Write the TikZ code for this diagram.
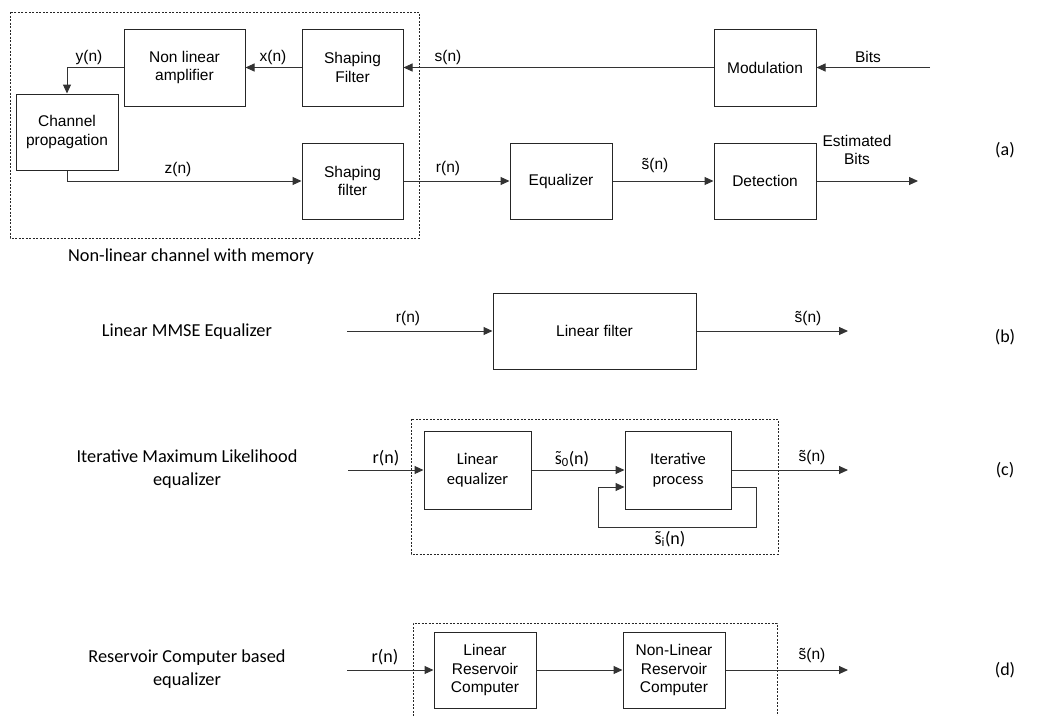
\documentclass[tikz,border=0pt]{standalone}
\usepackage{fontspec}
\setmainfont{Liberation Sans}
\newfontfamily\calfont{Carlito}
\usetikzlibrary{arrows.meta}
\newcommand{\stil}{\leavevmode\hbox{\ooalign{s\cr\hidewidth\raisebox{0.05ex}{\char"02DC}\hidewidth\cr}}}
\begin{document}
\begin{tikzpicture}[x=1pt,y=-1pt,
  box/.style={draw=black!85, line width=1pt, align=center, inner sep=0pt,
    minimum width=102pt, minimum height=77pt, font=\fontsize{15.5}{18.5}\selectfont},
  cbox/.style={box, font=\calfont\fontsize{16.5}{19.5}\selectfont},
  arr/.style={draw=black!80, line width=1pt, -{Triangle[length=9pt,width=8pt]}},
  ln/.style={draw=black!80, line width=1pt},
  dbox/.style={draw=black!85, line width=0.8pt, dash pattern=on 2pt off 1.5pt},
  lab/.style={font=\fontsize{15.5}{18.5}\selectfont, inner sep=0pt},
  clab/.style={font=\calfont\fontsize{18}{21}\selectfont, inner sep=0pt},
  side/.style={font=\calfont\fontsize{18.3}{23}\selectfont, align=center, inner sep=0pt}]
\useasboundingbox (0,0) rectangle (1046,715);

% ---------------- (a) ----------------
\draw[dbox] (10,12) rectangle (419,238);
\node[box, minimum width=121pt] (nla) at (184.5,67.5) {Non linear\\amplifier};
\node[box, minimum width=101pt] (sf1) at (352.5,67.5) {Shaping\\Filter};
\node[box] (mod) at (765,67.5) {Modulation};
\node[box, minimum height=76pt] (ch) at (67,132) {Channel\\propagation};
\node[box, minimum width=101pt, minimum height=76pt] (sf2) at (352.5,181) {Shaping\\filter};
\node[box, minimum height=76pt] (eq) at (561,181) {Equalizer};
\node[box, minimum height=76pt] (det) at (765,181) {Detection};
\coordinate (bitsin) at (930,67.5);
\coordinate (bitsout) at (918,181);

\draw[arr] (bitsin) -- (mod.east);
\draw[arr] (mod.west) -- (sf1.east);
\draw[arr] (sf1.west) -- (nla.east);
\draw[arr] (nla.west) -| (ch.north);
\draw[arr] (ch.south) |- (sf2.west);
\draw[arr] (sf2.east) -- (eq.west);
\draw[arr] (eq.east) -- (det.west);
\draw[arr] (det.east) -- (bitsout);

\node[lab] (lbits) at (868,57) {Bits};
\node[lab] (lsn) at (448,57) {s(n)};
\node[lab] (lxn) at (273,57) {x(n)};
\node[lab] (lyn) at (89,57) {y(n)};
\node[lab] (lzn) at (178,169) {z(n)};
\node[lab] (lrn) at (448,168) {r(n)};
\node[lab] (lstn) at (655,165) {\~{s}(n)};
\node[lab, align=center] (lest) at (857,150) {Estimated\\Bits};
\node[side] (lchan) at (191,257) {Non-linear channel with memory};
\node[clab] (la) at (1005,150) {(a)};

% ---------------- (b) ----------------
\node[box, minimum width=203pt, minimum height=76pt] (lf) at (594.5,331) {Linear filter};
\coordinate (bin) at (347,331);
\coordinate (bout) at (848,331);
\draw[arr] (bin) -- (lf.west);
\draw[arr] (lf.east) -- (bout);
\node[lab] (lbr) at (408,318) {r(n)};
\node[lab] (lbs) at (808,318) {\~{s}(n)};
\node[side] (lmmse) at (187,332) {Linear MMSE Equalizer};
\node[clab] (lb) at (1005,337) {(b)};

% ---------------- (c) ----------------
\draw[dbox] (411,419) rectangle (778,554);
\node[cbox, minimum width=107pt, minimum height=78pt] (le) at (477.5,470) {Linear\\equalizer};
\node[cbox, minimum width=106pt, minimum height=78pt] (ip) at (678,470) {Iterative\\process};
\coordinate (cin) at (348,470);
\coordinate (cout) at (848,470);
\coordinate (fb1) at (756,487);
\coordinate (fb2) at (756,527);
\coordinate (fb3) at (598,527);
\coordinate (fb4) at (598,487);
\draw[arr] (cin) -- (le.west);
\draw[arr] (le.east) -- (ip.west);
\draw[arr] (ip.east) -- (cout);
\draw[ln] (ip.east |- fb1) -- (fb1) -- (fb2) -- (fb3) -- (fb4);
\draw[arr] (fb4) -- (ip.west |- fb4);
\node[clab] (lcr) at (386,458) {r(n)};
\node[clab] (lcs0) at (572,459) {\stil\textsubscript{0}(n)};
\node[clab] (lcsi) at (670,539) {\stil\textsubscript{i}(n)};
\node[lab] (lcs) at (812,457) {\~{s}(n)};
\node[side] (liml) at (187,469) {Iterative Maximum Likelihood\\equalizer};
\node[clab] (lc) at (1005,470) {(c)};

% ---------------- (d) ----------------
\draw[dbox] (413,716) -- (413,623) -- (777,623) -- (777,716);
\node[box, minimum height=76pt] (lrc) at (485,670) {Linear\\Reservoir\\Computer};
\node[box, minimum height=76pt] (nlrc) at (674,670) {Non-Linear\\Reservoir\\Computer};
\coordinate (din) at (347,670);
\coordinate (dout) at (848,670);
\draw[arr] (din) -- (lrc.west);
\draw[arr] (lrc.east) -- (nlrc.west);
\draw[arr] (nlrc.east) -- (dout);
\node[clab] (ldr) at (385,657) {r(n)};
\node[lab] (lds) at (812,655) {\~{s}(n)};
\node[side] (lrce) at (187,669) {Reservoir Computer based\\equalizer};
\node[clab] (ld) at (1005,670) {(d)};
\end{tikzpicture}
\end{document}
